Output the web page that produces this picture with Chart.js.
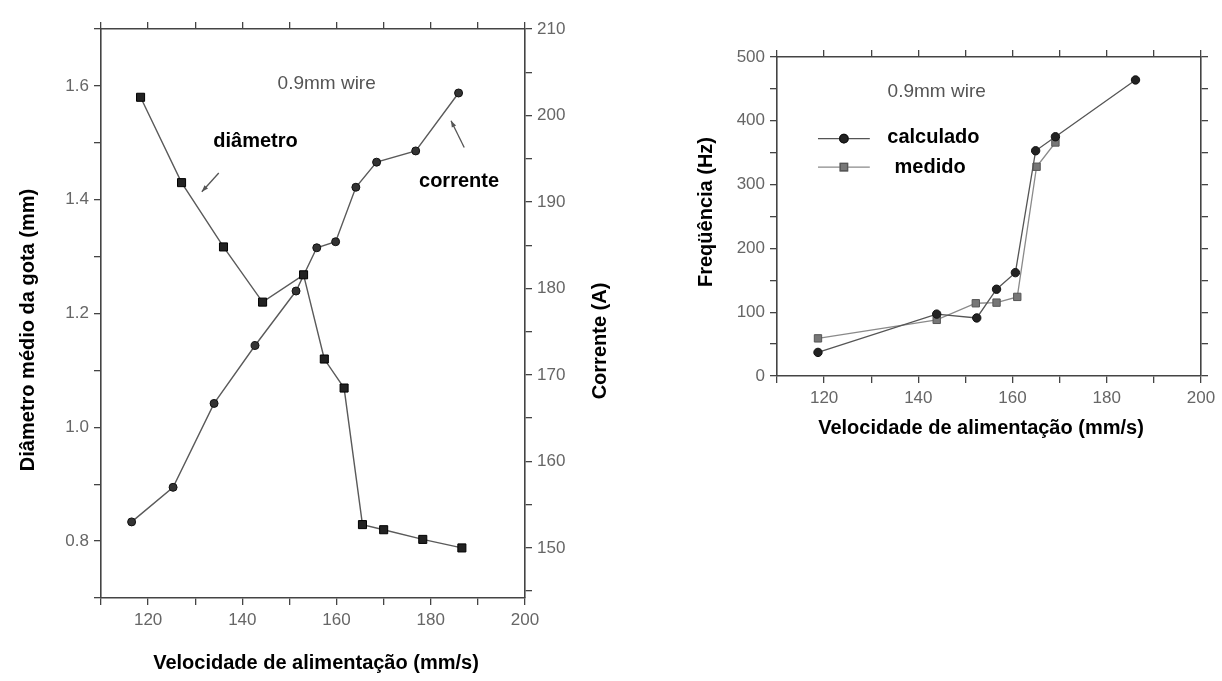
<!DOCTYPE html>
<html>
<head>
<meta charset="utf-8">
<script src="https://cdn.jsdelivr.net/npm/chart.js@4/dist/chart.umd.min.js"></script>
<style>
  html, body { margin: 0; padding: 0; background: #fff; }
  #wrap { position: relative; width: 1222px; height: 681px; overflow: hidden; }
  #dropChart { position: absolute; left: 0; top: 0; }
  #freqChart { position: absolute; left: 640px; top: 0; }
</style>
</head>
<body>
<div id="wrap">
  <canvas id="dropChart" width="640" height="681"></canvas>
  <canvas id="freqChart" width="582" height="460"></canvas>
</div>
<script>
// left chart: drop diameter (squares) and current (circles) vs feed speed
const diamSpeed = [118.4, 127.1, 136.0, 144.3, 153.0, 157.4, 161.6, 165.5, 170.0, 178.3, 186.6];
const diamValues = [1.58, 1.43, 1.317, 1.22, 1.268, 1.12, 1.069, 0.829, 0.82, 0.803, 0.788];
const currSpeed = [116.5, 125.3, 134.0, 142.7, 151.4, 155.8, 159.8, 164.1, 168.5, 176.8, 185.9];
const currValues = [153.0, 157.0, 166.7, 173.4, 179.7, 184.7, 185.4, 191.7, 194.6, 195.9, 202.6];

// right chart: detachment frequency, calculated vs measured
const calcSpeed = [118.7, 143.9, 152.4, 156.6, 160.6, 164.9, 169.1, 186.1];
const calcFreq = [37, 97, 91, 136, 162, 353, 375, 464];
const measSpeed = [118.7, 143.9, 152.2, 156.6, 161.0, 165.1, 169.1];
const measFreq = [59, 88, 114, 115, 124, 328, 366];

const xTitle = 'Velocidade de alimentação (mm/s)';
const wireLabel = '0.9mm wire';

const FONT = "'Liberation Sans', Arial, sans-serif";
const tickFont = { family: FONT, size: 17 };
const tickColor = '#666';
const axisColor = '#444';

const toPoints = (xs, ys) => xs.map((x, i) => ({ x, y: ys[i] }));

// text, arrows and legend drawn inside the plots
const notesPlugin = {
  id: 'notes',
  afterDatasetsDraw(chart, args, opts) {
    const ctx = chart.ctx;
    const xs = chart.scales.x;
    ctx.save();

    (opts.arrows || []).forEach(a => {
      const ys = chart.scales[a.yAxis];
      const x1 = xs.getPixelForValue(a.from[0]), y1 = ys.getPixelForValue(a.from[1]);
      const x2 = xs.getPixelForValue(a.to[0]), y2 = ys.getPixelForValue(a.to[1]);
      const ang = Math.atan2(y2 - y1, x2 - x1);
      ctx.strokeStyle = '#555';
      ctx.lineWidth = 1.3;
      ctx.beginPath();
      ctx.moveTo(x1, y1);
      ctx.lineTo(x2, y2);
      ctx.stroke();
      ctx.fillStyle = '#555';
      ctx.beginPath();
      ctx.moveTo(x2, y2);
      ctx.lineTo(x2 - 7 * Math.cos(ang - 0.35), y2 - 7 * Math.sin(ang - 0.35));
      ctx.lineTo(x2 - 7 * Math.cos(ang + 0.35), y2 - 7 * Math.sin(ang + 0.35));
      ctx.closePath();
      ctx.fill();
    });

    (opts.legend || []).forEach(l => {
      const ys = chart.scales.y;
      const x0 = xs.getPixelForValue(l.x[0]), x1 = xs.getPixelForValue(l.x[1]);
      const y = ys.getPixelForValue(l.y);
      const ds = chart.data.datasets[l.dataset];
      ctx.strokeStyle = ds.borderColor;
      ctx.lineWidth = ds.borderWidth;
      ctx.beginPath();
      ctx.moveTo(x0, y);
      ctx.lineTo(x1, y);
      ctx.stroke();
      Chart.helpers.drawPoint(ctx, {
        pointStyle: ds.pointStyle, radius: ds.pointRadius, rotation: 0, borderWidth: 1
      }, (x0 + x1) / 2, y);
      ctx.fillStyle = ds.pointBackgroundColor;
      ctx.strokeStyle = ds.pointBorderColor;
      ctx.fill();
      ctx.stroke();
    });

    (opts.texts || []).forEach(t => {
      const ys = chart.scales[t.yAxis];
      ctx.font = t.font;
      ctx.fillStyle = t.color;
      ctx.textAlign = 'center';
      ctx.textBaseline = 'middle';
      ctx.fillText(t.text, xs.getPixelForValue(t.x), ys.getPixelForValue(t.y));
    });

    (opts.titles || []).forEach(t => {
      ctx.save();
      ctx.translate(t.px, t.py);
      ctx.rotate(t.rotation || 0);
      ctx.font = 'bold 20px ' + FONT;
      ctx.fillStyle = '#000';
      ctx.textAlign = 'center';
      ctx.textBaseline = 'middle';
      ctx.fillText(t.text, 0, 0);
      ctx.restore();
    });

    ctx.restore();
  }
};

function linearAxis(min, max, step, position, labelEvery, opts) {
  return Object.assign({
    type: 'linear',
    position,
    min, max,
    grid: { drawOnChartArea: false, drawTicks: true, tickLength: 7, color: axisColor, lineWidth: 1.3 },
    border: { display: true, color: axisColor, width: 1.6 },
    ticks: {
      stepSize: step,
      includeBounds: false,
      autoSkip: false,
      maxRotation: 0,
      font: tickFont,
      color: tickColor,
      padding: 5,
      callback: v => labelEvery && Math.abs(Math.round(v / labelEvery) * labelEvery - v) < 1e-6
        ? (labelEvery < 1 ? v.toFixed(1) : String(v)) : ''
    }
  }, opts || {});
}

const fixWidth = w => s => { s.width = w; };
const fixHeight = h => s => { s.height = h; };

new Chart(document.getElementById('dropChart'), {
  type: 'line',
  data: {
    datasets: [{
      label: 'diâmetro',
      data: toPoints(diamSpeed, diamValues),
      yAxisID: 'y',
      borderColor: '#5a5a5a',
      borderWidth: 1.4,
      pointStyle: 'rect',
      pointRadius: 5.7,
      pointBackgroundColor: '#222',
      pointBorderColor: '#000',
      pointBorderWidth: 1,
      tension: 0
    }, {
      label: 'corrente',
      data: toPoints(currSpeed, currValues),
      yAxisID: 'y1',
      borderColor: '#5a5a5a',
      borderWidth: 1.4,
      pointStyle: 'circle',
      pointRadius: 4,
      pointBackgroundColor: '#333',
      pointBorderColor: '#111',
      pointBorderWidth: 1,
      tension: 0
    }]
  },
  options: {
    responsive: false,
    animation: false,
    devicePixelRatio: 1,
    layout: { padding: 0 },
    scales: {
      x: linearAxis(110, 200, 10, 'bottom', 20, { afterFit: fixHeight(83) }),
      x2: linearAxis(110, 200, 10, 'top', 0, { afterFit: fixHeight(29) }),
      y: linearAxis(0.7, 1.7, 0.1, 'left', 0.2, { afterFit: fixWidth(101) }),
      y1: linearAxis(144.2, 210, 5, 'right', 10, { afterFit: fixWidth(115) })
    },
    plugins: {
      legend: { display: false },
      tooltip: { enabled: false },
      notes: {
        texts: [
          { text: wireLabel, x: 157.9, y: 1.603, yAxis: 'y', font: '19px ' + FONT, color: '#555' },
          { text: 'diâmetro', x: 142.8, y: 1.503, yAxis: 'y', font: 'bold 20px ' + FONT, color: '#000' },
          { text: 'corrente', x: 186, y: 192.4, yAxis: 'y1', font: 'bold 20px ' + FONT, color: '#000' }
        ],
        arrows: [
          { from: [135.0, 1.447], to: [131.4, 1.414], yAxis: 'y' },
          { from: [187.1, 196.3], to: [184.3, 199.4], yAxis: 'y1' }
        ],
        titles: [
          { text: 'Diâmetro médio da gota (mm)', px: 28, py: 330, rotation: -Math.PI / 2 },
          { text: 'Corrente (A)', px: 600, py: 341, rotation: -Math.PI / 2 },
          { text: xTitle, px: 316, py: 663 }
        ]
      }
    }
  },
  plugins: [notesPlugin]
});

new Chart(document.getElementById('freqChart'), {
  type: 'line',
  data: {
    datasets: [{
      label: 'calculado',
      data: toPoints(calcSpeed, calcFreq),
      borderColor: '#555',
      borderWidth: 1.3,
      pointStyle: 'circle',
      pointRadius: 4.2,
      pointBackgroundColor: '#222',
      pointBorderColor: '#111',
      pointBorderWidth: 1,
      tension: 0
    }, {
      label: 'medido',
      data: toPoints(measSpeed, measFreq),
      borderColor: '#8a8a8a',
      borderWidth: 1.3,
      pointStyle: 'rect',
      pointRadius: 5.2,
      pointBackgroundColor: '#777',
      pointBorderColor: '#555',
      pointBorderWidth: 1,
      tension: 0
    }]
  },
  options: {
    responsive: false,
    animation: false,
    devicePixelRatio: 1,
    layout: { padding: 0 },
    scales: {
      x: linearAxis(110, 200, 10, 'bottom', 20, { afterFit: fixHeight(84) }),
      x2: linearAxis(110, 200, 10, 'top', 0, { afterFit: fixHeight(57) }),
      y: linearAxis(0, 500, 50, 'left', 100, { afterFit: fixWidth(137) }),
      y2: linearAxis(0, 500, 50, 'right', 0, { afterFit: fixWidth(21) })
    },
    plugins: {
      legend: { display: false },
      tooltip: { enabled: false },
      notes: {
        texts: [
          { text: wireLabel, x: 143.9, y: 446, yAxis: 'y', font: '19px ' + FONT, color: '#555' },
          { text: 'calculado', x: 143.2, y: 374, yAxis: 'y', font: 'bold 20px ' + FONT, color: '#000' },
          { text: 'medido', x: 142.5, y: 327, yAxis: 'y', font: 'bold 20px ' + FONT, color: '#000' }
        ],
        legend: [
          { dataset: 0, x: [118.7, 129.7], y: 372 },
          { dataset: 1, x: [118.7, 129.7], y: 327.5 }
        ],
        titles: [
          { text: 'Freqüência (Hz)', px: 66, py: 212, rotation: -Math.PI / 2 },
          { text: xTitle, px: 341, py: 428 }
        ]
      }
    }
  },
  plugins: [notesPlugin]
});
</script>
</body>
</html>
